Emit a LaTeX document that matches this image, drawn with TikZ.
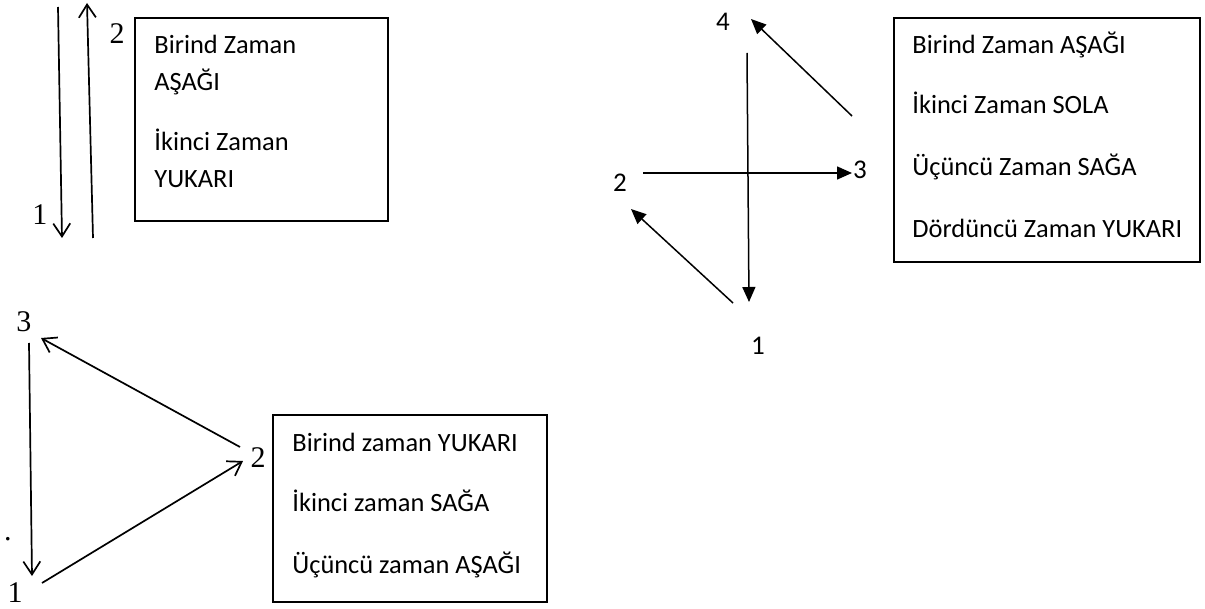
\documentclass[tikz,border=0pt]{standalone}
\usepackage{fontspec}
\setmainfont{Carlito}
\newfontfamily\numserif{Liberation Serif}
\usetikzlibrary{arrows.meta}

\begin{document}
\begin{tikzpicture}[x=0.5pt,y=-0.5pt,
        barb/.style={line width=0.85pt,-{Straight Barb[length=6.5pt,width=8.5pt,line width=0.85pt]}},
        tri/.style={line width=0.75pt,-{Triangle[length=7.5pt,width=6.5pt]}},
        kutu/.style={line width=0.75pt},
        satir/.style={anchor=base west,inner sep=0pt,font=\fontsize{13.2}{15}\selectfont},
        elyazi/.style={inner sep=0pt,font=\numserif\fontsize{15}{17}\selectfont},
        rakam/.style={inner sep=0pt,font=\fontsize{13.5}{15}\selectfont}]
    \useasboundingbox (0,0) rectangle (1205,609);

    \draw[kutu] (135,18) rectangle (388,221);
    \foreach \t/\y [count=\i] in {Birind Zaman/54,AŞAĞI/91,İkinci Zaman/151,YUKARI/188}{
        \node[satir] (a\i) at (154,\y) {\t};
    }
    \node[elyazi] (a1num) at (40,215) {1};
    \node[elyazi] (a2num) at (117,34) {2};
    \coordinate (a1s) at (58,7);
    \coordinate (a1e) at (62,238);
    \coordinate (a2s) at (93,238);
    \coordinate (a2e) at (87,3);
    \draw[barb] (a1s)--(a1e);
    \draw[barb] (a2s)--(a2e);

    \draw[kutu] (894,18) rectangle (1200,262);
    \foreach \t/\y [count=\i] in {Birind Zaman AŞAĞI/54,İkinci Zaman SOLA/114,Üçüncü Zaman SAĞA/176,Dördüncü Zaman YUKARI/238}{
        \node[satir] (b\i) at (912,\y) {\t};
    }
    \node[rakam] (b1num) at (758,346) {1};
    \node[rakam] (b2num) at (620,183) {2};
    \node[rakam] (b3num) at (860,170) {3};
    \node[rakam] (b4num) at (723,22) {4};
    \coordinate (b1s) at (747,53);
    \coordinate (b1e) at (749,302);
    \coordinate (b2s) at (733,303);
    \coordinate (b2e) at (631,209);
    \coordinate (b3s) at (643,173);
    \coordinate (b3e) at (852,173);
    \coordinate (b4s) at (852,116);
    \coordinate (b4e) at (751,19);
    \draw[tri] (b1s)--(b1e);
    \draw[tri] (b2s)--(b2e);
    \draw[tri] (b3s)--(b3e);
    \draw[tri] (b4s)--(b4e);

    \draw[kutu] (273,415) rectangle (547,602);
    \foreach \t/\y [count=\i] in {Birind zaman YUKARI/451,İkinci zaman SAĞA/511,Üçüncü zaman AŞAĞI/573}{
        \node[satir] (c\i) at (292,\y) {\t};
    }
    \node[elyazi] (c1num) at (15,593) {1};
    \node[elyazi] (c2num) at (258,458) {2};
    \node[elyazi] (c3num) at (24,322) {3};
    \node[elyazi,anchor=base] (nokta) at (8,540) {.};
    \coordinate (c1s) at (29,343);
    \coordinate (c1e) at (32,576);
    \coordinate (c2s) at (42,583);
    \coordinate (c2e) at (243,461);
    \coordinate (c3s) at (240,447);
    \coordinate (c3e) at (41,338);
    \draw[barb] (c1s)--(c1e);
    \draw[barb] (c2s)--(c2e);
    \draw[barb] (c3s)--(c3e);
\end{tikzpicture}
\end{document}
